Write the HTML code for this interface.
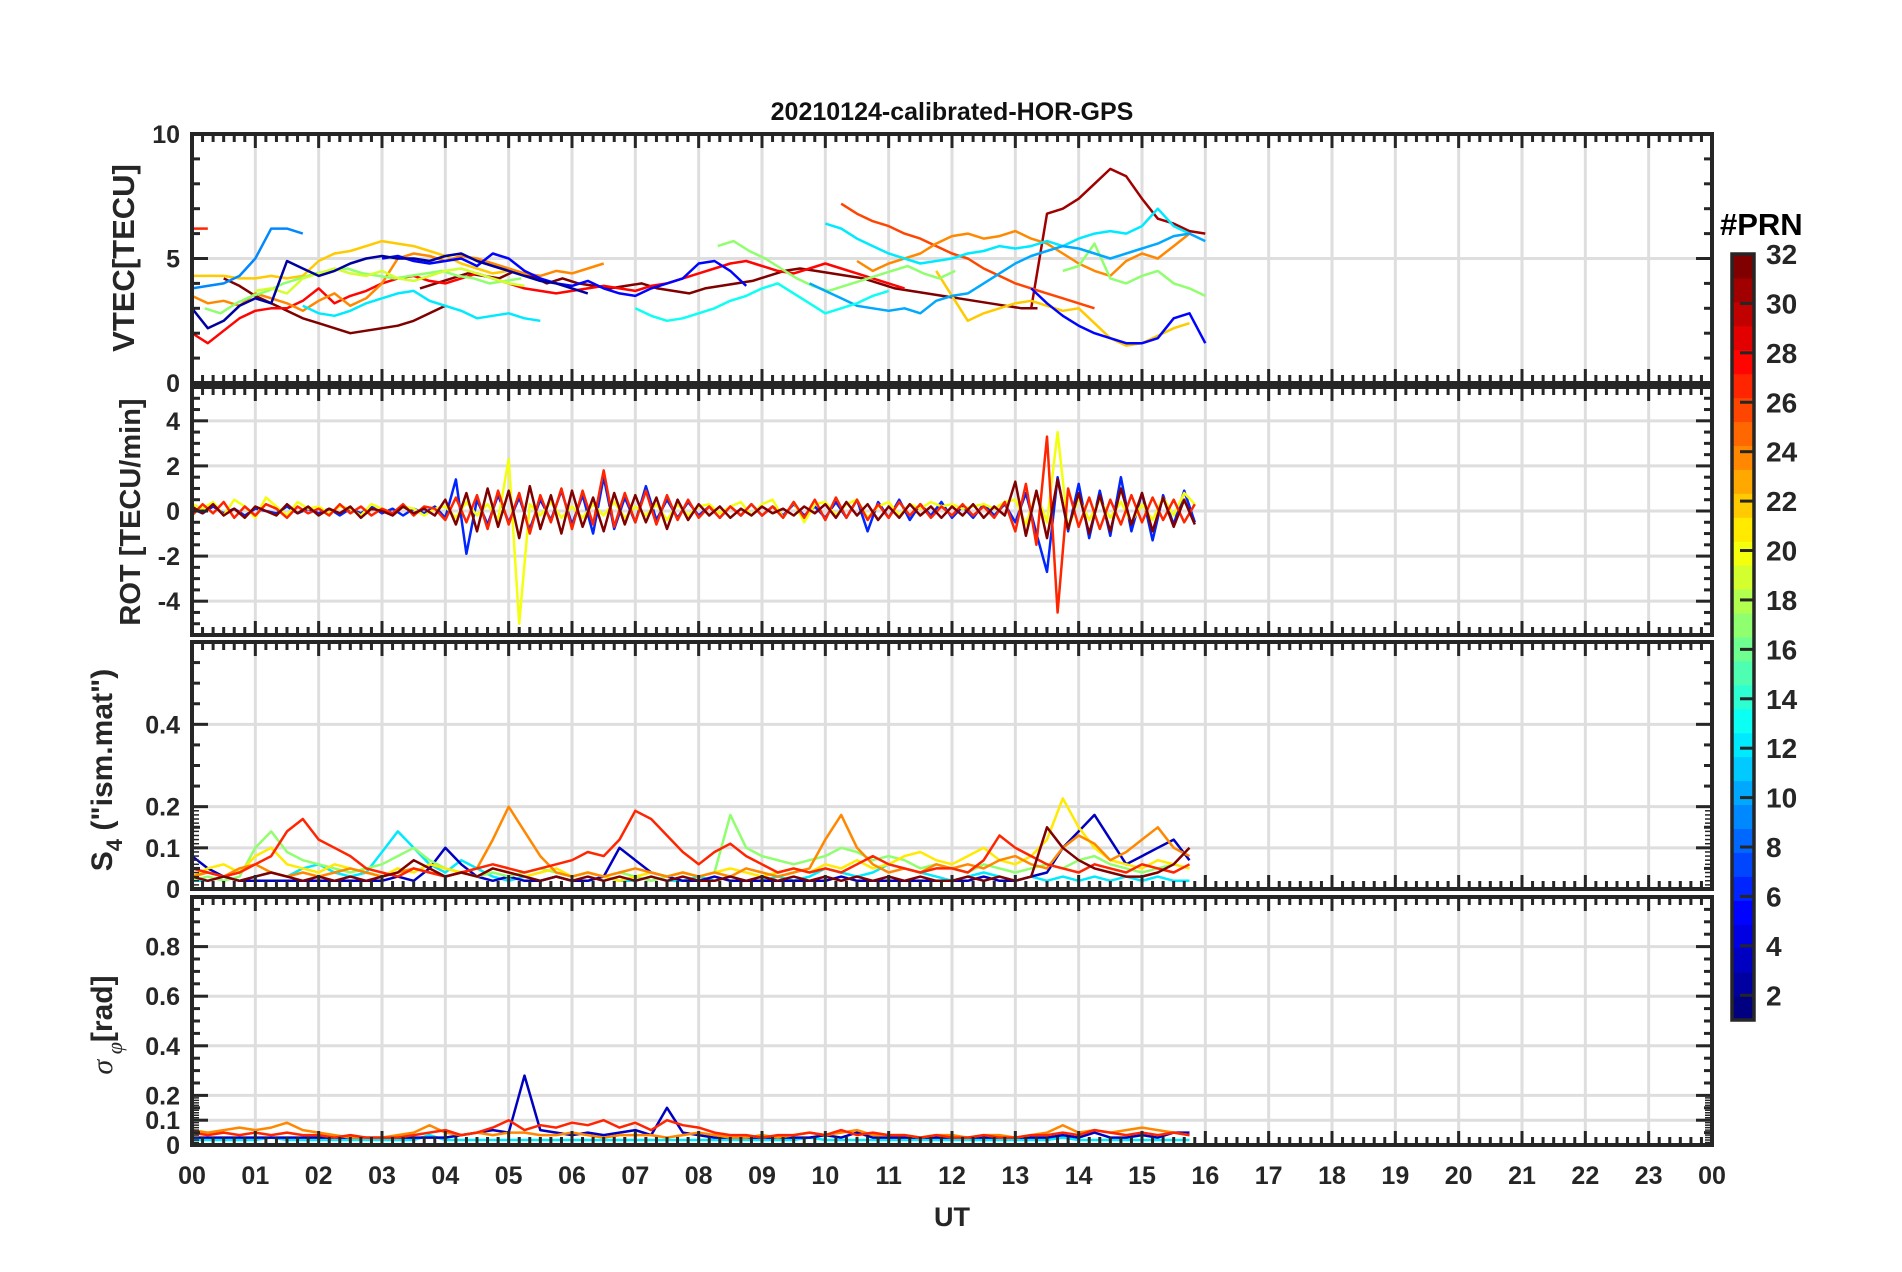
<!DOCTYPE html>
<html><head><meta charset="utf-8"><style>
html,body{margin:0;padding:0;background:#fff;}
svg{display:block;font-family:"Liberation Sans",Arial,sans-serif;font-weight:bold;}
</style></head><body>
<svg id="chart" width="1902" height="1272" viewBox="0 0 1902 1272" xmlns="http://www.w3.org/2000/svg">
<text x="952" y="120" font-size="25" text-anchor="middle" fill="#111">20210124-calibrated-HOR-GPS</text>
<text x="952" y="1226" font-size="27" text-anchor="middle" fill="#262626">UT</text>
<text transform="translate(134,258) rotate(-90)" font-size="31" text-anchor="middle" fill="#262626">VTEC[TECU]</text>
<text transform="translate(140,512) rotate(-90)" font-size="29" text-anchor="middle" fill="#262626">ROT [TECU/min]</text>
<text transform="translate(112,770) rotate(-90)" font-size="30" text-anchor="middle" fill="#262626">S<tspan font-size="22" dy="10">4</tspan><tspan dy="-10"> ("ism.mat")</tspan></text>
<text transform="translate(112,1025) rotate(-90)" font-size="30" text-anchor="middle" fill="#262626"><tspan font-family="Liberation Serif" font-style="italic" font-weight="normal">σ</tspan><tspan font-size="22" dy="10" font-family="Liberation Serif" font-style="italic" font-weight="normal"> φ</tspan><tspan dy="-10">[rad]</tspan></text>
<text x="1720" y="235" font-size="31" fill="#000">#PRN</text>
<g id="layer"></g>
</svg>
<script>
// ---------- data ----------
const hourLabels = ["00","01","02","03","04","05","06","07","08","09","10","11","12","13","14","15","16","17","18","19","20","21","22","23","00"];
const vtecTicks = [0,5,10];
const rotTicks = [-4,-2,0,2,4];
const s4Ticks = [0,0.1,0.2,0.4];
const sigTicks = [0,0.1,0.2,0.4,0.6,0.8];
const cbTicks = [2,4,6,8,10,12,14,16,18,20,22,24,26,28,30,32];

// VTEC: PRN, start hour, values every 0.25 h
const vtecPrn = [27,32,32,31,28,26,22,22,24,24,17,17,17,12,12,19,5,5,2,10,9,13];
const vtecStart = [0,0.5,3.6,13.25,0,10.25,0,11.75,0,10.5,0.2,8.3,13.75,1.75,10.0,1.0,3.0,13.25,0,9.75,0,7.0];
const vtecVals = [
[6.2,6.2],
[4.2,3.9,3.5,3.2,2.9,2.6,2.4,2.2,2.0,2.1,2.2,2.3,2.5,2.8,3.1],
[3.8,4.0,4.2,4.4,4.3,4.2,4.5,4.3,4.0,4.2,4.0,3.9,3.8,3.9,4.0,3.8,3.7,3.6,3.8,3.9,4.0,4.1,4.3,4.5,4.6,4.5,4.4,4.3,4.2,4.0,3.8,3.7,3.6,3.5,3.4,3.3,3.2,3.1,3.0,3.0],
[3.0,6.8,7.0,7.4,8.0,8.6,8.3,7.4,6.6,6.4,6.1,6.0],
[2.0,1.6,2.1,2.6,2.9,3.0,3.0,3.3,3.8,3.2,3.5,3.7,4.0,4.2,4.3,4.1,4.0,4.2,4.4,4.2,4.0,3.8,3.7,3.6,3.7,3.8,3.9,3.8,3.7,3.9,4.0,4.2,4.4,4.6,4.8,4.9,4.7,4.5,4.4,4.6,4.8,4.6,4.4,4.2,4.0,3.8],
[7.2,6.8,6.5,6.3,6.0,5.8,5.5,5.2,5.0,4.6,4.3,4.0,3.8,3.6,3.4,3.2,3.0],
[4.3,4.3,4.3,4.2,4.2,4.3,4.2,4.3,4.9,5.2,5.3,5.5,5.7,5.6,5.5,5.3,5.1,4.8,4.6,4.4,4.5,4.4],
[4.5,3.5,2.5,2.8,3.0,3.2,3.3,3.1,2.9,3.0,2.4,1.8,1.5,1.6,1.9,2.2,2.4],
[3.5,3.2,3.3,3.1,3.6,3.4,3.2,2.9,3.3,3.6,3.1,3.4,4.0,5.0,5.2,5.1,4.9,5.1,5.0,4.8,4.6,4.4,4.3,4.5,4.4,4.6,4.8],
[4.9,4.5,4.8,5.0,5.2,5.6,5.9,6.0,5.8,5.9,6.1,5.8,5.6,5.2,4.8,4.5,4.3,4.9,5.2,5.0,5.5,6.0],
[3.0,2.8,3.2,3.5,3.7,4.0,4.2,4.4,4.5,4.6,4.4,4.3,4.2,4.3,4.4,4.5,4.3,4.2,4.0,4.1,4.2],
[5.5,5.7,5.3,5.0,4.6,4.2,3.9,3.7,3.9,4.1,4.3,4.5,4.7,4.4,4.2,4.5],
[4.5,4.7,5.6,4.2,4.0,4.3,4.5,4.0,3.8,3.5],
[3.1,2.8,2.7,2.9,3.2,3.4,3.6,3.7,3.3,3.1,2.9,2.6,2.7,2.8,2.6,2.5],
[6.4,6.2,5.8,5.5,5.2,5.0,4.8,4.9,5.0,5.2,5.3,5.5,5.4,5.5,5.7,5.5,5.8,6.0,6.1,6.0,6.3,7.0,6.3,6.0],
[3.7,3.8,3.6,4.2,4.4,4.6,4.4,4.3,4.5,4.2,4.1,4.3,4.5,4.6,4.4,4.2,4.0,3.9],
[5.0,5.1,4.9,4.8,4.9,5.0,4.7,5.2,5.0,4.5,4.2,4.0,3.9,4.1,3.8,3.6,3.5,3.8,4.0,4.2,4.8,4.9,4.5,3.9],
[3.8,3.2,2.7,2.3,2.0,1.8,1.6,1.6,1.8,2.6,2.8,1.6],
[3.0,2.2,2.5,3.1,3.4,3.2,4.9,4.6,4.3,4.5,4.8,5.0,5.1,5.0,5.0,4.9,5.1,5.2,4.9,4.7,4.5,4.3,4.1,4.0,3.8,3.6],
[4.0,3.7,3.4,3.1,3.0,2.9,3.0,2.8,3.3,3.5,3.6,4.0,4.4,4.8,5.1,5.3,5.5,5.4,5.2,5.0,5.2,5.4,5.6,5.9,6.0,5.7],
[3.8,3.9,4.0,4.3,5.0,6.2,6.2,6.0],
[3.0,2.7,2.5,2.6,2.8,3.0,3.3,3.5,3.8,4.0,3.6,3.2,2.8,3.0,3.2,3.5,3.7]
];

// ROT: PRN, start hour, values every 10 min
const rotPrn = [6,20,27,32];
const rotStart = [0,0,0,0];
const rotVals = [
[0.1,-0.1,0.2,-0.1,0.1,-0.2,0.1,0,-0.1,0.2,-0.1,0.1,-0.1,0.1,-0.2,0.1,-0.1,0.2,-0.1,0.1,-0.2,0.1,-0.1,0.2,-0.3,1.4,-1.9,0.5,-0.6,0.7,-0.5,0.6,-0.8,0.5,-0.4,0.9,-0.6,0.7,-1.0,1.5,-0.8,0.6,-0.5,1.1,-0.4,0.5,-0.3,0.4,-0.2,0.2,-0.3,0.2,-0.2,0.3,-0.2,0.2,-0.2,0.3,-0.2,0.2,-0.3,0.4,-0.3,0.5,-0.9,0.4,-0.3,0.5,-0.4,0.3,-0.2,0.4,-0.3,0.2,-0.3,0.3,-0.2,0.3,-0.5,0.8,-1.0,-2.7,1.5,-0.9,1.2,-1.2,0.9,-1.1,1.5,-0.9,0.8,-1.3,0.7,-0.6,0.9,-0.5],
[0.3,0.1,0.4,-0.2,0.5,0.2,-0.3,0.6,0.2,-0.2,0.4,0.1,0.2,-0.1,0.2,0.1,-0.2,0.3,0.1,-0.1,0.2,0.1,-0.2,0.1,0.2,-0.3,0.4,-0.2,0.3,-0.4,2.3,-5.0,0.3,-0.2,0.4,-0.3,0.2,-0.3,0.3,-0.2,0.4,-0.3,0.2,-0.2,0.3,-0.4,0.3,-0.2,0.2,0.3,-0.1,0.2,0.4,-0.2,0.3,0.5,-0.3,0.4,-0.5,0.3,0.4,-0.2,0.3,0.5,-0.3,0.2,0.4,-0.2,0.3,0.1,0.4,0.2,0.3,0.1,0.2,0.3,0.1,0.4,0.5,-0.6,0.8,-0.5,3.5,-0.8,0.6,-0.4,0.5,-0.3,0.4,-0.5,0.3,-0.4,0.6,-0.2,0.8,0.3],
[-0.2,0.3,-0.1,0.4,-0.3,0.2,-0.2,0.3,0.1,-0.3,0.2,-0.1,0.1,-0.2,0.3,-0.1,0.2,-0.2,0.1,-0.1,0.3,-0.2,0.2,0.1,-0.4,0.6,-0.5,0.7,-0.8,0.9,-0.6,0.8,-1.0,0.7,-0.5,1.0,-0.8,0.9,-0.6,1.8,-0.7,0.8,-0.5,0.9,-0.6,0.7,-0.4,0.5,-0.3,0.2,-0.3,0.2,-0.2,0.3,-0.2,0.2,-0.3,0.4,-0.3,0.5,-0.4,0.6,-0.3,0.5,-0.4,0.3,-0.3,0.4,-0.2,0.3,-0.3,0.2,-0.2,0.3,-0.2,0.2,-0.3,0.4,-0.9,1.2,-1.5,3.3,-4.5,1.0,-0.7,0.6,-0.8,0.5,-0.6,0.7,-0.5,0.6,-0.4,0.5,-0.5,0.3],
[0.2,-0.1,0.3,-0.2,0.1,-0.3,0.2,0,-0.2,0.3,-0.1,0.2,-0.2,0.1,-0.1,0.2,-0.3,0.1,0,-0.2,0.2,-0.1,0.1,-0.2,0.5,-0.6,0.8,-0.9,1.0,-0.7,0.9,-1.2,1.1,-0.8,0.7,-1.0,0.9,-0.7,0.6,-0.9,0.8,-0.6,0.7,-0.5,0.6,-0.8,0.5,-0.4,0.3,-0.2,0.2,-0.3,0.1,-0.2,0.2,-0.1,0.1,-0.2,0.2,-0.1,0.3,-0.3,0.4,-0.2,0.3,-0.4,0.2,-0.3,0.3,-0.2,0.2,-0.3,0.2,-0.2,0.3,-0.3,0.2,-0.2,1.3,-1.1,0.9,-1.2,1.4,-0.8,0.8,-1.0,0.7,-0.9,1.0,-0.6,0.8,-0.9,0.6,-0.7,0.5,-0.6]
];

// S4: PRN, values every 15 min from 00 UT
const s4Prn = [12,3,17,21,24,27,32];
const s4Vals = [
[0.02,0.02,0.03,0.02,0.03,0.04,0.03,0.05,0.06,0.04,0.03,0.04,0.09,0.14,0.1,0.06,0.04,0.07,0.05,0.03,0.02,0.03,0.02,0.03,0.02,0.02,0.03,0.02,0.02,0.03,0.02,0.02,0.03,0.02,0.03,0.02,0.02,0.03,0.02,0.03,0.05,0.04,0.03,0.04,0.06,0.05,0.04,0.03,0.02,0.03,0.04,0.03,0.02,0.03,0.02,0.03,0.02,0.03,0.02,0.03,0.02,0.03,0.02,0.02],
[0.08,0.05,0.03,0.02,0.02,0.02,0.02,0.02,0.02,0.02,0.02,0.02,0.02,0.03,0.02,0.05,0.1,0.06,0.03,0.02,0.03,0.02,0.02,0.03,0.02,0.02,0.03,0.1,0.07,0.04,0.03,0.02,0.02,0.03,0.02,0.02,0.02,0.02,0.02,0.02,0.02,0.03,0.02,0.02,0.02,0.02,0.02,0.02,0.02,0.02,0.03,0.02,0.02,0.03,0.04,0.1,0.14,0.18,0.12,0.06,0.08,0.1,0.12,0.07],
[0.02,0.03,0.02,0.03,0.1,0.14,0.09,0.07,0.06,0.05,0.04,0.05,0.06,0.08,0.1,0.07,0.05,0.04,0.03,0.04,0.03,0.04,0.05,0.04,0.03,0.04,0.03,0.04,0.03,0.02,0.03,0.04,0.03,0.04,0.18,0.1,0.08,0.07,0.06,0.07,0.08,0.1,0.09,0.07,0.08,0.07,0.05,0.06,0.05,0.04,0.06,0.05,0.04,0.05,0.06,0.05,0.07,0.08,0.06,0.05,0.04,0.05,0.06,0.05],
[0.03,0.05,0.06,0.04,0.08,0.1,0.06,0.05,0.04,0.06,0.05,0.04,0.03,0.05,0.04,0.06,0.05,0.04,0.03,0.05,0.04,0.03,0.04,0.05,0.03,0.04,0.03,0.02,0.03,0.04,0.03,0.04,0.03,0.04,0.05,0.04,0.03,0.04,0.05,0.04,0.06,0.05,0.07,0.05,0.06,0.08,0.09,0.07,0.06,0.08,0.1,0.07,0.06,0.08,0.12,0.22,0.15,0.1,0.07,0.06,0.05,0.07,0.06,0.05],
[0.03,0.04,0.03,0.05,0.06,0.04,0.03,0.04,0.03,0.04,0.05,0.04,0.03,0.04,0.05,0.04,0.03,0.04,0.05,0.12,0.2,0.14,0.08,0.04,0.03,0.04,0.03,0.04,0.05,0.04,0.03,0.04,0.03,0.04,0.03,0.05,0.04,0.03,0.04,0.05,0.12,0.18,0.1,0.06,0.04,0.05,0.04,0.06,0.05,0.06,0.05,0.07,0.08,0.06,0.05,0.1,0.13,0.11,0.07,0.09,0.12,0.15,0.1,0.08],
[0.05,0.04,0.03,0.04,0.06,0.08,0.14,0.17,0.12,0.1,0.08,0.05,0.04,0.03,0.05,0.04,0.03,0.04,0.05,0.06,0.05,0.04,0.05,0.06,0.07,0.09,0.08,0.12,0.19,0.17,0.13,0.09,0.06,0.09,0.11,0.08,0.06,0.04,0.05,0.04,0.05,0.04,0.06,0.08,0.06,0.05,0.04,0.05,0.05,0.04,0.07,0.13,0.1,0.08,0.06,0.05,0.04,0.06,0.05,0.04,0.06,0.05,0.04,0.06],
[0.03,0.02,0.03,0.02,0.03,0.04,0.03,0.02,0.03,0.02,0.03,0.02,0.03,0.04,0.07,0.05,0.03,0.04,0.03,0.05,0.04,0.03,0.02,0.03,0.02,0.03,0.02,0.03,0.02,0.03,0.02,0.03,0.02,0.02,0.03,0.02,0.03,0.02,0.03,0.02,0.03,0.02,0.03,0.02,0.03,0.02,0.03,0.02,0.02,0.03,0.02,0.03,0.02,0.03,0.15,0.1,0.07,0.05,0.04,0.03,0.03,0.04,0.06,0.1]
];

// sigma-phi: PRN, values every 15 min from 00 UT
const sigPrn = [12,3,24,27];
const sigVals = [
[0.02,0.02,0.02,0.02,0.02,0.03,0.02,0.02,0.02,0.02,0.02,0.02,0.02,0.02,0.02,0.04,0.02,0.02,0.02,0.02,0.02,0.02,0.02,0.02,0.02,0.02,0.02,0.02,0.02,0.02,0.02,0.02,0.02,0.02,0.02,0.02,0.02,0.02,0.02,0.03,0.02,0.02,0.02,0.02,0.02,0.02,0.02,0.02,0.02,0.02,0.02,0.02,0.02,0.02,0.02,0.03,0.02,0.02,0.02,0.02,0.02,0.02,0.02,0.02],
[0.03,0.03,0.03,0.03,0.03,0.03,0.03,0.03,0.03,0.03,0.03,0.03,0.03,0.03,0.03,0.03,0.03,0.04,0.05,0.06,0.05,0.28,0.06,0.05,0.04,0.05,0.04,0.05,0.06,0.04,0.15,0.05,0.04,0.03,0.03,0.03,0.03,0.03,0.03,0.03,0.04,0.03,0.05,0.03,0.03,0.03,0.03,0.03,0.03,0.03,0.03,0.03,0.03,0.03,0.03,0.04,0.03,0.05,0.03,0.03,0.04,0.03,0.05,0.05],
[0.06,0.05,0.06,0.07,0.06,0.07,0.09,0.06,0.05,0.04,0.03,0.03,0.03,0.04,0.05,0.08,0.05,0.04,0.05,0.04,0.05,0.05,0.04,0.04,0.05,0.04,0.03,0.04,0.04,0.04,0.03,0.04,0.05,0.04,0.03,0.03,0.04,0.03,0.04,0.05,0.04,0.05,0.06,0.04,0.04,0.04,0.03,0.04,0.04,0.03,0.04,0.04,0.03,0.04,0.05,0.08,0.05,0.06,0.05,0.06,0.07,0.06,0.05,0.04],
[0.05,0.04,0.05,0.04,0.05,0.04,0.05,0.04,0.04,0.03,0.04,0.03,0.03,0.03,0.04,0.05,0.06,0.04,0.05,0.07,0.1,0.06,0.08,0.07,0.09,0.08,0.1,0.07,0.09,0.06,0.1,0.08,0.07,0.05,0.04,0.04,0.03,0.04,0.04,0.05,0.04,0.06,0.04,0.05,0.04,0.04,0.03,0.04,0.03,0.03,0.04,0.03,0.03,0.04,0.04,0.05,0.04,0.06,0.05,0.04,0.05,0.04,0.05,0.04]
];

// ---------- drawing ----------
const NS = "http://www.w3.org/2000/svg";
const layer = document.getElementById('layer');
const X0 = 192, X1 = 1712;
const xs = h => X0 + (X1 - X0) * h / 24;
function jet(t){
  const c = v => Math.round(255 * Math.max(0, Math.min(1, v)));
  return `rgb(${c(1.5-Math.abs(4*t-3))},${c(1.5-Math.abs(4*t-2))},${c(1.5-Math.abs(4*t-1))})`;
}
const prnColor = p => jet((p - 1) / 31);
function mk(tag, attrs, parent){
  const e = document.createElementNS(NS, tag);
  for (const k in attrs) e.setAttribute(k, attrs[k]);
  (parent || layer).appendChild(e);
  return e;
}
const panels = [
  {name:'vtec', top:134, bot:383, min:0, max:10, ticks:vtecTicks, minor:1, fine:null},
  {name:'rot', top:387, bot:635, min:-5.5, max:5.5, ticks:rotTicks, minor:0.5, fine:null},
  {name:'s4', top:642, bot:889, min:0, max:0.6, ticks:s4Ticks, minor:0.05, fine:0.02},
  {name:'sigma', top:897, bot:1145, min:0, max:1, ticks:sigTicks, minor:0.05, fine:0.02}
];
panels.forEach(p => { p.ys = v => p.bot - (p.bot - p.top) * (v - p.min) / (p.max - p.min); });

function drawPanel(p, idx){
  const g = mk('g', {});
  
  
  const cp = mk('clipPath', {id:'clip'+idx}, g);
  mk('rect', {x:X0, y:p.top, width:X1-X0, height:p.bot-p.top}, cp);
  for (let h = 1; h < 24; h++){
    const l = mk('line', {x1:xs(h), x2:xs(h), y1:p.top, y2:p.bot, stroke:'#dedede', 'stroke-width':3}, g);
    
    
  }
  p.ticks.forEach(v => {
    if (v === p.min) return;
    const l = mk('line', {x1:X0, x2:X1, y1:p.ys(v), y2:p.ys(v), stroke:'#dedede', 'stroke-width':3}, g);
    
    
  });
  const dg = mk('g', {'clip-path':`url(#clip${idx})`}, g);
  
  
  p.series.forEach(s => {
    const pts = s.vals.map((v, i) => xs(s.start + i * s.step).toFixed(1) + ',' + p.ys(v).toFixed(1)).join(' ');
    const pl = mk('polyline', {points:pts, fill:'none', stroke:prnColor(s.prn), 'stroke-width':2.5, 'stroke-linejoin':'round'}, dg);
    
    
  });
  const tk = mk('g', {stroke:'#262626', 'stroke-width':3}, g);
  for (let m = 0; m <= 144; m++){
    const x = xs(m / 6), len = (m % 6 === 0) ? 14 : 8;
    mk('line', {x1:x, x2:x, y1:p.bot, y2:p.bot-len}, tk);
    mk('line', {x1:x, x2:x, y1:p.top, y2:p.top+len}, tk);
  }
  const ny = Math.round((p.max - p.min) / p.minor);
  for (let k = 0; k <= ny; k++){
    const v = p.min + k * p.minor;
    const major = p.ticks.some(t => Math.abs(t - v) < 1e-6);
    const len = major ? 16 : 8, y = p.ys(v);
    mk('line', {x1:X0, x2:X0+len, y1:y, y2:y}, tk);
    mk('line', {x1:X1, x2:X1-len, y1:y, y2:y}, tk);
  }
  if (p.fine){
    for (let v = 0; v < 0.2; v += p.fine/2){
      const y = p.ys(v);
      mk('line', {x1:X0, x2:X0+7, y1:y, y2:y, 'stroke-width':1.5}, tk);
      mk('line', {x1:X1, x2:X1-7, y1:y, y2:y, 'stroke-width':1.5}, tk);
    }
  }
  const box = mk('rect', {x:X0, y:p.top, width:X1-X0, height:p.bot-p.top, fill:'none', stroke:'#262626', 'stroke-width':4}, g);
  
  
  p.ticks.forEach(v => {
    const t = mk('text', {x:180, y:p.ys(v)+9, 'font-size':25, 'text-anchor':'end', fill:'#262626'}, g);
    t.textContent = String(v);
    
    
  });
}

panels[0].series = vtecVals.map((v, i) => ({prn:vtecPrn[i], start:vtecStart[i], step:0.25, vals:v}));
panels[1].series = rotVals.map((v, i) => ({prn:rotPrn[i], start:rotStart[i], step:1/6, vals:v}));
panels[2].series = s4Vals.map((v, i) => ({prn:s4Prn[i], start:0, step:0.25, vals:v}));
panels[3].series = sigVals.map((v, i) => ({prn:sigPrn[i], start:0, step:0.25, vals:v}));
panels.forEach(drawPanel);

hourLabels.forEach((lab, h) => {
  const t = mk('text', {x:xs(h), y:1184, 'font-size':25, 'text-anchor':'middle', fill:'#262626'});
  t.textContent = lab;
  
  
});

const CB = {x:1732, w:22, top:254, bot:1020, min:1, max:32};
const cys = v => CB.bot - (CB.bot - CB.top) * (v - CB.min) / (CB.max - CB.min);
const cb = mk('g', {});


const bandH = (CB.bot - CB.top) / 32;
for (let k = 1; k <= 32; k++){
  mk('rect', {x:CB.x, y:CB.bot - k*bandH, width:CB.w, height:bandH+0.5, fill:prnColor(k)}, cb);
}
mk('rect', {x:CB.x, y:CB.top, width:CB.w, height:CB.bot-CB.top, fill:'none', stroke:'#262626', 'stroke-width':3.5}, cb);
cbTicks.forEach(v => {
  mk('line', {x1:CB.x+CB.w-14, x2:CB.x+CB.w, y1:cys(v), y2:cys(v), stroke:'#262626', 'stroke-width':3}, cb);
  const t = mk('text', {x:1766, y:cys(v)+10, 'font-size':28, fill:'#262626'}, cb);
  t.textContent = String(v);
  
  
});
</script>
</body></html>
